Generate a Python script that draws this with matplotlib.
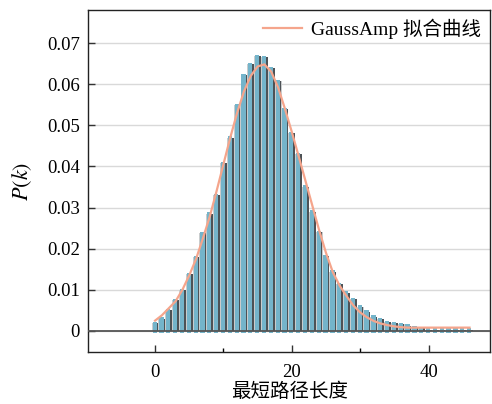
import numpy as np
import matplotlib
matplotlib.use('Agg')
from matplotlib import pyplot as plt
from matplotlib.ticker import MultipleLocator

# shortest path length distribution
lengths = np.arange(0, 47)
probs = [0.0019, 0.0030, 0.0050, 0.0075, 0.0099, 0.0139, 0.0179, 0.0237,
         0.0285, 0.0331, 0.0408, 0.0470, 0.0549, 0.0621, 0.0649, 0.0669,
         0.0665, 0.0639, 0.0608, 0.0539, 0.0481, 0.0430, 0.0351, 0.0290,
         0.0241, 0.0182, 0.0144, 0.0114, 0.0093, 0.0077, 0.0059, 0.0047,
         0.0035, 0.0028, 0.0022, 0.0019, 0.0016, 0.0013, 0.0010, 0.0006,
         0.0003, 0.0003, 0.0003, 0.0003, 0.0003, 0.0003, 0.0003]

# GaussAmp fitted curve evaluated at each length
fit = [0.0025, 0.0038, 0.0055, 0.0072, 0.0100, 0.0135, 0.0175, 0.0225,
       0.0278, 0.0340, 0.0405, 0.0470, 0.0530, 0.0582, 0.0620, 0.0643,
       0.0648, 0.0630, 0.0592, 0.0540, 0.0484, 0.0425, 0.0365, 0.0305,
       0.0245, 0.0190, 0.0143, 0.0110, 0.0085, 0.0062, 0.0045, 0.0033,
       0.0024, 0.0018, 0.0014, 0.0011, 0.0009, 0.0008, 0.0008, 0.0008,
       0.0008, 0.0008, 0.0008, 0.0008, 0.0008, 0.0008, 0.0008]

plt.rcParams['font.family'] = ['Liberation Serif', 'Noto Sans CJK SC']
plt.rcParams['mathtext.fontset'] = 'stix'

fig = plt.figure(figsize=(4.92, 4.04), dpi=100)
ax = fig.add_axes([0.179, 0.129, 0.817, 0.846])

probs = np.array(probs)
# grey backing, dark shadow bars, blue bars in front
ax.bar(lengths, probs, width=1.0, color='#c9cccd', zorder=1.5)
ax.bar(lengths + 0.12, probs, width=0.72, color='#4d5256', zorder=2)
ax.bar(lengths - 0.06, probs + 0.0009, bottom=-0.0006, width=0.62,
       color='#74b4ca', zorder=3)
ax.axhline(0, color='#555555', lw=1.3, zorder=4)

ax.plot(lengths, fit, color='#f5a58c', lw=1.6, zorder=5,
        label='GaussAmp 拟合曲线')

ax.set_xlim(-9.8, 49.0)
ax.set_ylim(-0.0051, 0.078)
ax.xaxis.set_major_locator(MultipleLocator(20))
ax.xaxis.set_minor_locator(MultipleLocator(10))
ax.set_yticks([0, 0.01, 0.02, 0.03, 0.04, 0.05, 0.06, 0.07])
ax.set_yticklabels(['0', '0.01', '0.02', '0.03', '0.04', '0.05', '0.06', '0.07'])
ax.yaxis.grid(True, color='#d9d9d9', lw=1.0, zorder=0)
ax.set_axisbelow(True)

ax.tick_params(axis='both', which='major', direction='in', length=5,
               width=1.0, labelsize=13.5, color='#333333', pad=6)
ax.tick_params(axis='x', which='major', pad=9)
ax.tick_params(axis='x', which='minor', direction='in', length=3, width=1.0)
ax.tick_params(top=False, right=False)
for s in ax.spines.values():
    s.set_linewidth(1.0)
    s.set_color('#222222')

ax.set_xlabel('最短路径长度', fontsize=14, labelpad=1)
ax.set_ylabel(r'$P(k)$', fontsize=16, labelpad=9)

leg = ax.legend(loc='upper right', frameon=False, fontsize=14,
                handlelength=2.0, borderaxespad=0.05, handletextpad=0.5)

fig.savefig('out.png', dpi=100)
